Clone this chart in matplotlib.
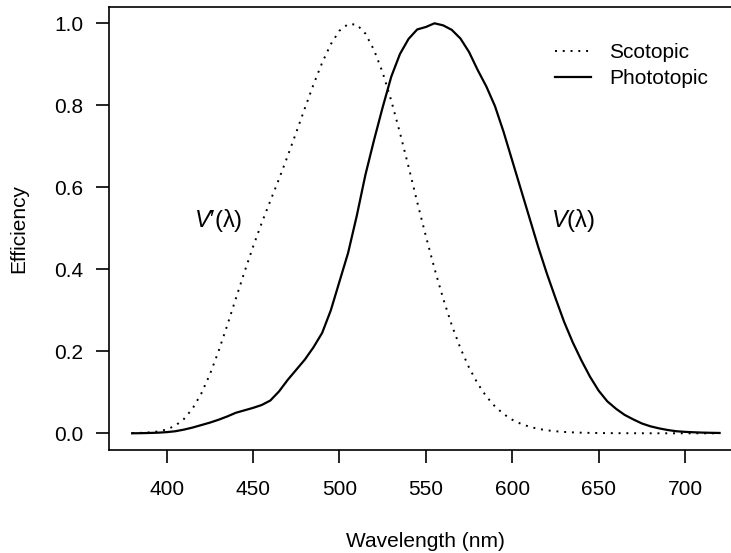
import matplotlib
matplotlib.use("Agg")
import matplotlib.pyplot as plt

plt.rcParams['font.family'] = ['Liberation Sans', 'DejaVu Sans']
plt.rcParams['mathtext.fontset'] = 'custom'
plt.rcParams['mathtext.rm'] = 'Liberation Sans'
plt.rcParams['mathtext.it'] = 'Liberation Sans:italic'

# wavelength grid (nm)
wl = [380, 385, 390, 395, 400, 405, 410, 415, 420, 425, 430, 435, 440, 445,
      450, 455, 460, 465, 470, 475, 480, 485, 490, 495, 500, 505, 510, 515,
      520, 525, 530, 535, 540, 545, 550, 555, 560, 565, 570, 575, 580, 585,
      590, 595, 600, 605, 610, 615, 620, 625, 630, 635, 640, 645, 650, 655,
      660, 665, 670, 675, 680, 685, 690, 695, 700, 705, 710, 715, 720]

# scotopic efficiency V'(lambda)
scotopic = [0.000589, 0.001108, 0.002209, 0.00453, 0.00929, 0.01852, 0.03484,
            0.0604, 0.0966, 0.1436, 0.1998, 0.2625, 0.3281, 0.3931, 0.455,
            0.513, 0.567, 0.620, 0.676, 0.734, 0.793, 0.851, 0.904, 0.949,
            0.982, 0.998, 0.997, 0.975, 0.935, 0.880, 0.811, 0.733, 0.650,
            0.564, 0.481, 0.402, 0.3288, 0.2639, 0.2076, 0.1602, 0.1212,
            0.0899, 0.0655, 0.0469, 0.03315, 0.02312, 0.01593, 0.01088,
            0.00737, 0.00497, 0.003335, 0.002235, 0.001497, 0.001005,
            0.000677, 0.000459, 0.000313, 0.000215, 0.000148, 0.000103,
            0.0000715, 0.0000501, 0.0000353, 0.000025, 0.0000178, 0.0000126,
            0.0000091, 0.0000066, 0.0000048]

# photopic efficiency V(lambda)
photopic = [0.0, 0.0003, 0.0008, 0.0015, 0.0028, 0.005, 0.009, 0.014, 0.020,
            0.026, 0.033, 0.041, 0.050, 0.056, 0.062, 0.069, 0.080, 0.102,
            0.130, 0.155, 0.180, 0.210, 0.245, 0.300, 0.370, 0.440, 0.530,
            0.630, 0.715, 0.795, 0.870, 0.925, 0.962, 0.985, 0.991, 1.000,
            0.995, 0.984, 0.963, 0.930, 0.886, 0.846, 0.798, 0.735, 0.665,
            0.595, 0.525, 0.455, 0.390, 0.330, 0.272, 0.222, 0.178, 0.138,
            0.104, 0.078, 0.060, 0.045, 0.034, 0.024, 0.017, 0.012, 0.008,
            0.005, 0.0035, 0.0025, 0.0017, 0.0012, 0.0008]

xticks = [400, 450, 500, 550, 600, 650, 700]
yticks = [0.0, 0.2, 0.4, 0.6, 0.8, 1.0]

W, H = 731, 553
FS = 15
fig = plt.figure(figsize=(W / 100, H / 100), dpi=100)
# plot region in pixels (left, top, right, bottom); right edge runs past the figure
L, T, R, B = 108.6, 6.9, 743.1, 449.7
ax = fig.add_axes([L / W, 1 - B / H, (R - L) / W, (B - T) / H])

ax.plot(wl, scotopic, color='black', lw=1.4, linestyle=(0, (1, 3)), label='Scotopic')
ax.plot(wl, photopic, color='black', lw=1.6, label='Phototopic')

ax.set_xlim(366.4, 733.6)
ax.set_ylim(-0.04, 1.04)
ax.set_xticks(xticks)
ax.set_yticks(yticks)
ax.set_yticklabels([f"{v:.1f}" for v in yticks])
for s in ax.spines.values():
    s.set_linewidth(1.2)
ax.tick_params(axis='both', direction='out', length=9.1, width=1.2, labelsize=FS)
ax.tick_params(axis='x', pad=13)
ax.tick_params(axis='y', pad=9)

fig.text(425.9 / W, 1 - 541.7 / H, 'Wavelength (nm)', ha='center', va='center', fontsize=FS)
fig.text(19 / W, 1 - 228.3 / H, 'Efficiency', ha='center', va='center', rotation=90, fontsize=FS)

ax.text(430, 0.52, r"$\mathit{V}$′(λ)", ha='center', va='center', fontsize=17)
ax.text(635, 0.52, r"$\mathit{V}$(λ)", ha='center', va='center', fontsize=17)

ax.legend(loc='upper left', bbox_to_anchor=(555 / W, 1 - 43 / H), bbox_transform=fig.transFigure,
          frameon=False, fontsize=FS, handlelength=1.75, handletextpad=0.85,
          borderpad=0, borderaxespad=0, labelspacing=0.35)

fig.savefig('out.png', dpi=100)
